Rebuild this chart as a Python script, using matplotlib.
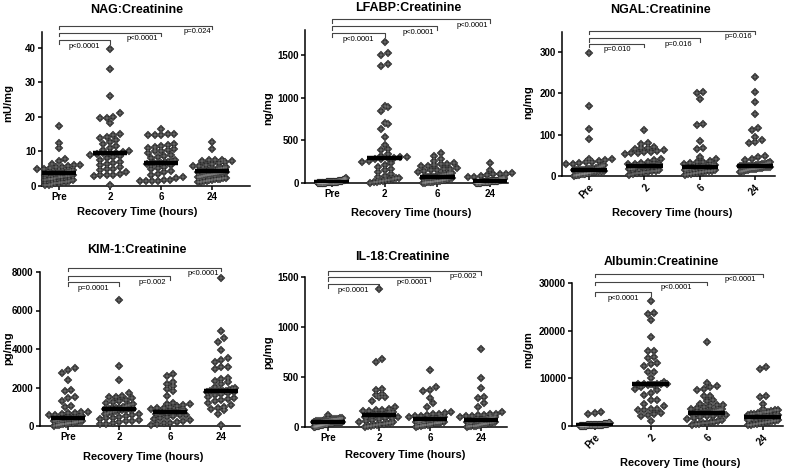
import numpy as np
import matplotlib
matplotlib.use("Agg")
import matplotlib.pyplot as plt
from matplotlib import rcParams

rcParams.update({"font.family": ["Liberation Sans", "DejaVu Sans"], "font.size": 7})

W, H = 791, 471
groups = ["Pre", "2", "6", "24"]

# ---- data ----
nag_pre = [17.3, 12.5, 11.0, 7.8, 7.2, 6.5, 6.2, 6.0, 5.8, 5.6, 5.5, 5.3, 5.0, 4.8, 4.6, 4.4, 4.2, 4.0, 3.9,
           3.8, 3.7, 3.6, 3.5, 3.4, 3.3, 3.1, 3.0, 2.8, 2.6, 2.5, 2.3, 2.1, 2.0, 1.8, 1.6, 1.5, 1.3, 1.2,
           1.0, 0.8, 0.6, 0.4, 0.2, 4.1, 3.7]
nag_2h = [39.8, 33.8, 26.2, 21.2, 20.0, 19.8, 19.8, 18.3, 15.0, 14.8, 14.2, 13.8, 13.2, 12.8, 12.3, 11.5,
          11.0, 10.5, 10.0, 9.8, 9.7, 9.6, 9.5, 9.3, 9.0, 8.7, 8.3, 8.0, 7.5, 7.0, 6.8, 6.5, 6.0, 5.5, 5.0,
          4.8, 4.5, 4.0, 3.5, 3.3, 3.3, 3.2, 3.0, 0.2]
nag_6h = [16.5, 15.0, 15.0, 14.8, 14.8, 14.7, 12.2, 11.8, 11.5, 11.3, 11.0, 10.8, 10.5, 10.2, 10.0, 9.5,
          9.0, 8.7, 8.3, 8.0, 7.5, 7.2, 7.0, 6.9, 6.8, 6.7, 6.6, 6.5, 6.3, 6.0, 5.6, 5.2, 4.8, 4.4, 4.0,
          3.6, 3.2, 2.6, 2.2, 1.8, 1.6, 1.5, 1.5, 1.4, 1.4]
nag_24h = [12.8, 10.8, 7.6, 7.5, 7.4, 7.3, 7.1, 6.9, 6.6, 6.3, 6.1, 5.9, 5.7, 5.5, 5.3, 5.1, 4.9, 4.7,
           4.6, 4.5, 4.4, 4.3, 4.2, 4.2, 4.1, 4.0, 4.0, 3.9, 3.8, 3.7, 3.6, 3.5, 3.4, 3.3, 3.2, 3.0, 2.9,
           2.7, 2.6, 2.4, 2.2, 2.1, 2.0, 1.9, 1.7, 1.6, 1.5, 1.4, 1.2, 1.1, 5.0, 3.1]
nag_median = [3.8, 9.6, 6.7, 4.2]

lfabp_pre = [55, 45, 40, 35, 32, 30, 28, 25, 22, 20, 19, 18, 16, 15, 14, 13, 12, 11, 10, 10, 9, 9, 8, 8,
             7, 7, 6, 6, 5, 5, 5, 4, 4, 3, 3, 3, 2, 2, 2, 1, 1, 1, 12, 15, 20]
lfabp_2h = [1660, 1530, 1500, 1400, 1370, 900, 895, 840, 710, 690, 640, 540, 450, 400, 385, 340, 320, 305,
            300, 295, 290, 285, 280, 260, 250, 230, 215, 190, 170, 150, 130, 100, 80, 65, 55, 45, 35, 25,
            18, 12, 8, 5, 60, 30]
lfabp_6h = [350, 320, 280, 260, 240, 225, 220, 210, 200, 195, 180, 170, 165, 155, 150, 140, 130, 120, 115,
            110, 100, 95, 90, 85, 80, 76, 72, 70, 68, 65, 62, 60, 55, 50, 45, 40, 36, 32, 28, 25, 22, 18,
            15, 12, 10, 8, 6, 4, 2, 70]
lfabp_24h = [240, 150, 115, 110, 105, 100, 95, 85, 75, 65, 58, 50, 45, 42, 38, 35, 32, 30, 28, 27, 26, 25,
             24, 23, 22, 20, 19, 18, 17, 15, 14, 13, 12, 11, 10, 9, 8, 7, 6, 5, 5, 4, 3, 3, 2, 2, 1, 28]
lfabp_median = [8, 290, 70, 25]

ngal_pre = [297, 170, 113, 90, 42, 40, 38, 36, 35, 33, 32, 30, 28, 26, 24, 22, 20, 19, 18, 17, 16, 16, 15,
            15, 14, 14, 14, 13, 13, 12, 12, 11, 10, 10, 9, 8, 8, 7, 6, 5, 5, 4, 3, 2, 2, 1, 15, 13]
ngal_2h = [110, 80, 78, 70, 68, 67, 65, 63, 60, 58, 57, 55, 55, 52, 40, 38, 35, 32, 30, 29, 28, 27, 26, 26,
           25, 25, 24, 23, 22, 20, 18, 16, 14, 12, 12, 10, 10, 8, 7, 5, 3, 25, 24, 27]
ngal_6h = [202, 200, 185, 125, 123, 85, 68, 65, 45, 40, 36, 35, 33, 31, 29, 27, 26, 25, 24, 23, 22, 22, 21,
           21, 20, 20, 19, 18, 17, 16, 15, 14, 13, 12, 11, 10, 9, 8, 7, 5, 4, 2, 22, 23, 24, 20]
ngal_24h = [240, 202, 178, 150, 117, 110, 95, 86, 83, 80, 48, 45, 40, 38, 34, 32, 30, 29, 28, 27, 26, 26,
            25, 25, 24, 24, 23, 23, 22, 22, 21, 21, 20, 20, 19, 18, 18, 17, 16, 15, 14, 13, 12, 10, 25, 24]
ngal_median = [14, 25, 22, 24]

kim_pre = [3000, 2900, 2750, 2400, 1850, 1800, 1500, 1450, 1300, 1050, 1000, 750, 720, 700, 660, 620, 580,
           550, 520, 490, 460, 440, 420, 410, 400, 390, 370, 350, 330, 310, 300, 280, 260, 240, 220, 200,
           180, 160, 140, 120, 100, 80, 60, 40, 20, 430, 420, 380]
kim_2h = [6550, 3100, 2400, 1700, 1550, 1500, 1500, 1450, 1350, 1300, 1250, 1200, 1150, 1100, 1050, 1000,
          960, 930, 900, 890, 880, 860, 840, 800, 760, 720, 680, 640, 600, 560, 520, 480, 440, 400, 360,
          320, 280, 240, 200, 160, 120, 80, 900, 910, 870, 850]
kim_6h = [2700, 2600, 2300, 2200, 2100, 1900, 1800, 1550, 1200, 1150, 1120, 1080, 1050, 1000, 960, 920,
          880, 850, 820, 800, 780, 760, 750, 740, 730, 720, 700, 680, 650, 620, 580, 550, 500, 450, 400,
          350, 300, 260, 220, 180, 140, 100, 60, 740, 745, 735]
kim_24h = [7700, 4950, 4550, 4350, 3950, 3550, 3450, 3300, 3050, 3050, 2950, 2500, 2450, 2350, 2300, 2200,
           2050, 1950, 1900, 1850, 1820, 1810, 1800, 1790, 1750, 1700, 1650, 1600, 1500, 1450, 1400, 1350,
           1300, 1200, 1100, 1000, 950, 900, 850, 600, 50, 1820, 1800, 1830]
kim_median = [430, 900, 740, 1810]

il18_pre = [120, 95, 90, 85, 80, 80, 78, 75, 72, 70, 68, 65, 62, 60, 58, 55, 52, 50, 50, 48, 47, 46, 45,
            44, 42, 40, 38, 36, 35, 33, 30, 28, 26, 24, 22, 20, 18, 15, 12, 10, 8, 5, 3, 47, 48, 46]
il18_2h = [1380, 680, 650, 380, 370, 330, 320, 305, 300, 260, 200, 180, 175, 170, 165, 160, 150, 140, 135,
           130, 125, 123, 122, 120, 115, 110, 105, 100, 95, 90, 80, 70, 60, 55, 50, 45, 40, 35, 30, 25, 20,
           15, 10, 5, 125, 120]
il18_6h = [570, 400, 370, 360, 290, 240, 200, 150, 140, 135, 130, 120, 115, 110, 105, 100, 95, 90, 88, 85,
           82, 80, 80, 78, 76, 75, 72, 70, 68, 65, 62, 60, 57, 55, 52, 50, 45, 40, 36, 32, 28, 24, 20, 16,
           12, 8, 5, 80, 79, 81]
il18_24h = [780, 490, 390, 300, 290, 240, 200, 150, 135, 130, 125, 120, 115, 110, 105, 100, 95, 92, 90, 86,
            83, 80, 77, 75, 74, 73, 72, 70, 68, 66, 64, 62, 60, 57, 54, 50, 46, 42, 38, 34, 30, 26, 22, 18,
            15, 12, 9, 6, 4, 73, 74, 72]
il18_median = [47, 123, 80, 73]

alb_pre = [2900, 2700, 2500, 650, 600, 550, 500, 460, 420, 400, 380, 350, 330, 300, 280, 260, 250, 240, 230,
           220, 210, 200, 190, 180, 170, 160, 150, 140, 130, 120, 110, 100, 90, 80, 70, 60, 50, 40, 30, 20,
           10, 200, 210, 190, 220, 180]
alb_2h = [26300, 23700, 23400, 22200, 18600, 15800, 15700, 14400, 14300, 13200, 13100, 12500, 11400, 11300,
          10000, 9200, 8900, 8850, 8800, 8700, 8500, 8200, 7800, 7600, 7000, 6600, 5500, 5400, 4600, 4300,
          3600, 3500, 3400, 3300, 2800, 2600, 2300, 2200, 1100, 8850, 8800, 8900]
alb_6h = [17600, 9100, 8300, 8100, 7700, 7600, 6300, 6200, 5500, 5300, 4700, 4500, 4400, 4200, 4000, 3800,
          3600, 3500, 3400, 3300, 3200, 3100, 3000, 2950, 2900, 2850, 2800, 2750, 2700, 2600, 2500, 2400,
          2300, 2200, 2000, 1800, 1600, 1400, 1200, 1000, 900, 800, 700, 600, 500, 400, 300, 2800, 2850, 2750]
alb_24h = [12300, 11900, 6200, 6000, 4700, 3600, 3400, 3300, 3100, 3000, 2900, 2800, 2700, 2600, 2500, 2400,
           2300, 2200, 2100, 2000, 1950, 1900, 1850, 1820, 1800, 1780, 1750, 1700, 1650, 1600, 1500, 1400,
           1300, 1200, 1100, 1000, 900, 800, 700, 600, 500, 400, 300, 200, 1820, 1830, 1810, 1800, 1850, 1790]
alb_median = [200, 8830, 2800, 1820]

titles = ["NAG:Creatinine", "LFABP:Creatinine", "NGAL:Creatinine",
          "KIM-1:Creatinine", "IL-18:Creatinine", "Albumin:Creatinine"]
ylabels = ["mU/mg", "ng/mg", "ng/mg", "pg/mg", "pg/mg", "mg/gm"]
pvalues = [["p<0.0001", "p<0.0001", "p=0.024"],
           ["p<0.0001", "p<0.0001", "p<0.0001"],
           ["p=0.010", "p=0.016", "p=0.016"],
           ["p=0.0001", "p=0.002", "p<0.0001"],
           ["p<0.0001", "p<0.0001", "p=0.002"],
           ["p<0.0001", "p<0.0001", "p<0.0001"]]
yticks = [[0, 10, 20, 30, 40], [0, 500, 1000, 1500], [0, 100, 200, 300],
          [0, 2000, 4000, 6000, 8000], [0, 500, 1000, 1500], [0, 10000, 20000, 30000]]

data = [[nag_pre, nag_2h, nag_6h, nag_24h], [lfabp_pre, lfabp_2h, lfabp_6h, lfabp_24h],
        [ngal_pre, ngal_2h, ngal_6h, ngal_24h], [kim_pre, kim_2h, kim_6h, kim_24h],
        [il18_pre, il18_2h, il18_6h, il18_24h], [alb_pre, alb_2h, alb_6h, alb_24h]]
medians = [nag_median, lfabp_median, ngal_median, kim_median, il18_median, alb_median]

# ---- layout (pixels) ----
# left, top, right, bottom(y=0), xlim, ytop
boxes = [(42, 32, 250, 186, (-0.33, 3.74), 44.6),
         (305, 30, 508, 183, (-0.51, 3.34), 1797),
         (562, 32, 775, 176, (-0.49, 3.36), 348),
         (40, 272, 240, 426, (-0.55, 3.37), 8000),
         (305, 277, 507, 427, (-0.45, 3.51), 1500),
         (572, 283, 783, 426, (-0.41, 3.36), 30000)]
bracket_y = [(0.948, 0.994, 1.039), (0.98, 1.026, 1.07), (0.917, 0.958, 1.007),
             (0.935, 0.974, 1.026), (0.953, 1.0, 1.04), (0.937, 1.007, 1.063)]
ptext_x = [(0.5, 1.63, 2.7), (0.5, 1.63, 2.66), (0.5, 1.61, 2.69),
           (0.5, 1.65, 2.65), (0.5, 1.65, 2.65), (0.5, 1.46, 2.6)]
title_pos = [(137, 10), (408, 8), (660, 10), (137, 250), (402, 257), (661, 262)]
xlab_pos = [(137, 212), (411, 213), (672, 213), (143, 457), (405, 455), (680, 463)]
ylab_pos = [(8, 103), (268, 108), (528, 102), (8, 348), (268, 352), (528, 350)]
rotated = [False, False, True, False, False, True]


def swarm_x(ax, xc, vals, row_px=5.0, dx_px=6.5):
    vals = np.sort(np.asarray(vals, float))
    ypix = ax.transData.transform(np.column_stack([np.full(len(vals), xc), vals]))[:, 1]
    p = ax.transData.transform([(0, 0), (1, 0)])
    cat_px = p[1, 0] - p[0, 0]
    rows, cur = [], [0]
    for i in range(1, len(vals)):
        if ypix[i] - ypix[cur[0]] < row_px:
            cur.append(i)
        else:
            rows.append(cur)
            cur = [i]
    rows.append(cur)
    xs = np.zeros(len(vals))
    for r in rows:
        n = len(r)
        step = dx_px / cat_px
        # crowded rows get squeezed into a narrower band
        max_half = 0.42 if n <= 8 else 0.27
        if n > 1:
            step = min(step, 2 * max_half / (n - 1))
        offs = (np.arange(n) - (n - 1) / 2) * step
        xs[r] = xc + offs
    return xs, vals


fig = plt.figure(figsize=(W / 100, H / 100), dpi=100)

for k in range(6):
    l, t, r, b, xl, ytop = boxes[k]
    ax = fig.add_axes([l / W, 1 - b / H, (r - l) / W, (b - t) / H])
    ax.set_xlim(*xl)
    ax.set_ylim(0, ytop)
    for s in ["top", "right"]:
        ax.spines[s].set_visible(False)
    for s in ["left", "bottom"]:
        ax.spines[s].set_linewidth(1.1)
    ax.tick_params(direction="out", length=3, width=1.1, pad=1.5, labelsize=7)
    ax.set_yticks(yticks[k])
    ax.set_yticklabels([str(v) for v in yticks[k]], fontweight="bold")
    ax.set_xticks(range(4))
    if rotated[k]:
        ax.set_xticklabels(groups, fontweight="bold", rotation=45, ha="right",
                           rotation_mode="anchor")
    else:
        ax.set_xticklabels(groups, fontweight="bold")

    for g in range(4):
        xs, ys = swarm_x(ax, g, data[k][g])
        ax.plot(xs, ys, linestyle="none", marker="D", markersize=3.8, color="#2e2e2e",
                markeredgecolor="#2e2e2e", markeredgewidth=0.3, clip_on=False, zorder=3)
        ax.plot(xs, ys, linestyle="none", marker="+", markersize=3.8, color="#a8a8a8",
                markeredgewidth=0.3, clip_on=False, zorder=3.1)
        ax.hlines(medians[k][g], g - 0.33, g + 0.33, color="black", linewidth=3.2, zorder=4)

    ah = b - t
    tick = 3.5 / ah
    trans = ax.get_xaxis_transform()
    for j in range(3):
        yb = bracket_y[k][j]
        ax.plot([0, 0, j + 1, j + 1], [yb - tick, yb, yb, yb - tick], color="#444444",
                linewidth=0.8, transform=trans, clip_on=False)
        ax.text(ptext_x[k][j], yb - 6.0 / ah, pvalues[k][j], transform=trans, ha="center",
                va="center", fontsize=5.5)

    fig.text(title_pos[k][0] / W, 1 - title_pos[k][1] / H, titles[k], ha="center", va="center",
             fontsize=9, fontweight="bold")
    fig.text(xlab_pos[k][0] / W, 1 - xlab_pos[k][1] / H, "Recovery Time (hours)", ha="center",
             va="center", fontsize=8, fontweight="bold")
    fig.text(ylab_pos[k][0] / W, 1 - ylab_pos[k][1] / H, ylabels[k], ha="center", va="center",
             fontsize=8, fontweight="bold", rotation=90)

fig.savefig("out.png", dpi=100)
